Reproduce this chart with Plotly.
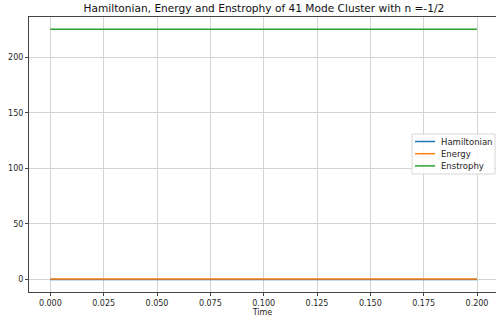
import plotly.graph_objects as go

# Time samples of the integration and the conserved quantities
time = [0.0, 0.025, 0.05, 0.075, 0.1, 0.125, 0.15, 0.175, 0.2]
hamiltonian = [0.05, 0.05, 0.05, 0.05, 0.05, 0.05, 0.05, 0.05, 0.05]
energy = [0.3, 0.3, 0.3, 0.3, 0.3, 0.3, 0.3, 0.3, 0.3]
enstrophy = [225.2, 225.2, 225.2, 225.2, 225.2, 225.2, 225.2, 225.2, 225.2]

series_names = ["Hamiltonian", "Energy", "Enstrophy"]
series_colors = ["#1f77b4", "#ff7f0e", "#2ca02c"]

x_ticks = [0.0, 0.025, 0.05, 0.075, 0.1, 0.125, 0.15, 0.175, 0.2]
x_tick_text = ["0.000", "0.025", "0.050", "0.075", "0.100", "0.125", "0.150", "0.175", "0.200"]
y_ticks = [0, 50, 100, 150, 200]

font = "DejaVu Sans"
W, H = 496, 320
ML, MR, MT, MB = 29, 0, 17, 28
PW, PH = W - ML - MR, H - MT - MB


def px_x(px):
    return (px - ML) / PW


def px_y(py):
    return (H - MB - py) / PH


fig = go.Figure()
for name, ys, color in zip(series_names, [hamiltonian, energy, enstrophy], series_colors):
    fig.add_trace(go.Scatter(x=time, y=ys, mode="lines", name=name,
                             line=dict(color=color, width=1.5), showlegend=False))

# compact boxed legend on the right-hand side
fig.add_shape(type="rect", xref="paper", yref="paper",
              x0=px_x(412), x1=px_x(495), y0=px_y(174), y1=px_y(134),
              line=dict(color="#d6d6d6", width=1), fillcolor="rgba(255,255,255,0.85)",
              layer="above")
for i, (name, color) in enumerate(zip(series_names, series_colors)):
    yy = px_y(141.5 + 12.2 * i)
    fig.add_shape(type="line", xref="paper", yref="paper",
                  x0=px_x(415), x1=px_x(435), y0=yy, y1=yy,
                  line=dict(color=color, width=1.5), layer="above")
    fig.add_annotation(xref="paper", yref="paper", x=px_x(439), y=yy,
                       text=name, showarrow=False, xanchor="left", yanchor="middle",
                       font=dict(family=font, size=8.5, color="#262626"))

fig.update_layout(
    width=W, height=H,
    margin=dict(l=ML, r=MR, t=MT, b=MB),
    paper_bgcolor="white", plot_bgcolor="white",
    font=dict(family=font, size=8, color="#262626"),
    title=dict(text="Hamiltonian, Energy and Enstrophy of 41 Mode Cluster with n =-1/2",
               xref="paper", x=0.503, xanchor="center", y=0.975, yanchor="middle",
               font=dict(family=font, size=10.6, color="#111111")),
    showlegend=False,
)

fig.update_xaxes(
    range=[-0.01, 0.2089], tickvals=x_ticks, ticktext=x_tick_text,
    showgrid=True, gridcolor="#d3d3d3", gridwidth=1,
    showline=True, linecolor="#444444", linewidth=1, mirror=True,
    ticks="outside", ticklen=3, tickcolor="#444444", zeroline=False,
    title=dict(text="Time", standoff=2, font=dict(family=font, size=8)),
)
fig.update_yaxes(
    range=[-11.3, 236.3], tickvals=y_ticks,
    showgrid=True, gridcolor="#d3d3d3", gridwidth=1,
    showline=True, linecolor="#444444", linewidth=1, mirror=True,
    ticks="outside", ticklen=3, tickcolor="#444444", zeroline=False,
)

fig.write_html("out.html")
